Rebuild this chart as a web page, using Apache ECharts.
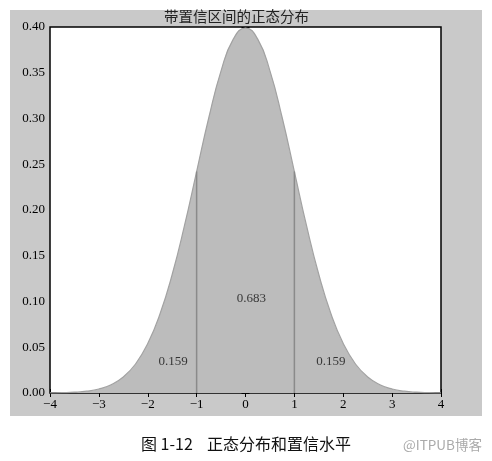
<!DOCTYPE html>
<html><head><meta charset="utf-8">
<script src="https://cdn.jsdelivr.net/npm/echarts@6/dist/echarts.min.js"></script>
<style>html,body{margin:0;padding:0;background:#fff;}#c{width:492px;height:461px;}</style>
</head><body><div id="c"></div>
<script>
// Curve values (x, density)
var xs = [-4,-3.75,-3.5,-3.25,-3,-2.75,-2.5,-2.25,-2,-1.75,-1.5,-1.25,-1,-0.75,-0.5,-0.25,0,0.25,0.5,0.75,1,1.25,1.5,1.75,2,2.25,2.5,2.75,3,3.25,3.5,3.75,4];
var ys = [0.0001,0.0004,0.0009,0.0020,0.0044,0.0091,0.0175,0.0317,0.0540,0.0863,0.1295,0.1826,0.2420,0.3011,0.3521,0.3867,0.3989,0.3867,0.3521,0.3011,0.2420,0.1826,0.1295,0.0863,0.0540,0.0317,0.0175,0.0091,0.0044,0.0020,0.0009,0.0004,0.0001];
var bounds = [-1, 1];
var boundHeight = 0.242;
var labels = [{x:-1.78,y:0.027,t:'0.159'},{x:-0.18,y:0.096,t:'0.683'},{x:1.45,y:0.027,t:'0.159'}];
var title = '带置信区间的正态分布';
var caption = '图 1-12    正态分布和置信水平';
var watermark = '@ITPUB博客';

var curve = xs.map(function(x,i){return [x, ys[i]];});
var chart = echarts.init(document.getElementById('c'), null, {renderer:'canvas'});
var serif = '"Liberation Serif","DejaVu Serif",serif';
var series = [{
  type:'line', data: curve, smooth: true, symbol:'none', z:2,
  lineStyle:{color:'#a2a2a2', width:1.2},
  areaStyle:{color:'#bcbcbc', opacity:1}
}];
bounds.forEach(function(b){
  series.push({type:'line', data:[[b,0],[b,boundHeight]], symbol:'none', z:3,
    lineStyle:{color:'#8a8a8a', width:1.5}});
});
series.push({type:'scatter', data: labels.map(function(l){return [l.x,l.y,l.t];}), symbolSize:0, z:4,
  label:{show:true, position:'inside', formatter:function(p){return p.value[2];},
    align:'left', verticalAlign:'bottom', color:'#111', fontSize:13, fontFamily:serif}});

var axisCommon = {axisLine:{show:false}, splitLine:{show:false},
  axisTick:{inside:true, length:4, lineStyle:{color:'#000'}}};
chart.setOption({
  animation:false,
  backgroundColor:'#fff',
  graphic:[
    {type:'rect', shape:{x:10,y:10,width:472,height:406}, style:{fill:'#c9c9c9'}, z:-10, silent:true},
    {type:'text', left:164, top:9, z:10, style:{text:title, fill:'#222', font:'14.5px "Noto Sans CJK SC", sans-serif'}},
    {type:'text', left:141, top:436, style:{text:caption, fill:'#111', font:'16px "Noto Sans CJK SC", sans-serif'}},
    {type:'text', left:403, top:438, style:{text:watermark, fill:'#aaa', font:'13.5px "Noto Sans CJK SC", sans-serif'}}
  ],
  grid:{left:50, top:27, width:391, height:366, show:true, backgroundColor:'#fff', borderColor:'#000', borderWidth:1.5, z:0},
  xAxis:[
    Object.assign({type:'value', min:-4, max:4, interval:1, position:'bottom',
      axisLabel:{color:'#000', fontSize:13, fontFamily:serif, margin:5,
        formatter:function(v){return v<0?'\u2212'+(-v):String(v);}}}, axisCommon),
    Object.assign({type:'value', min:-4, max:4, interval:1, position:'top', axisLabel:{show:false}}, axisCommon)
  ],
  yAxis:[
    Object.assign({type:'value', min:0, max:0.4, interval:0.05, position:'left',
      axisLabel:{color:'#000', fontSize:13, fontFamily:serif, margin:5,
        formatter:function(v){return v.toFixed(2);}}}, axisCommon),
    Object.assign({type:'value', min:0, max:0.4, interval:0.05, position:'right', axisLabel:{show:false}}, axisCommon)
  ],
  series: series
});
</script></body></html>
